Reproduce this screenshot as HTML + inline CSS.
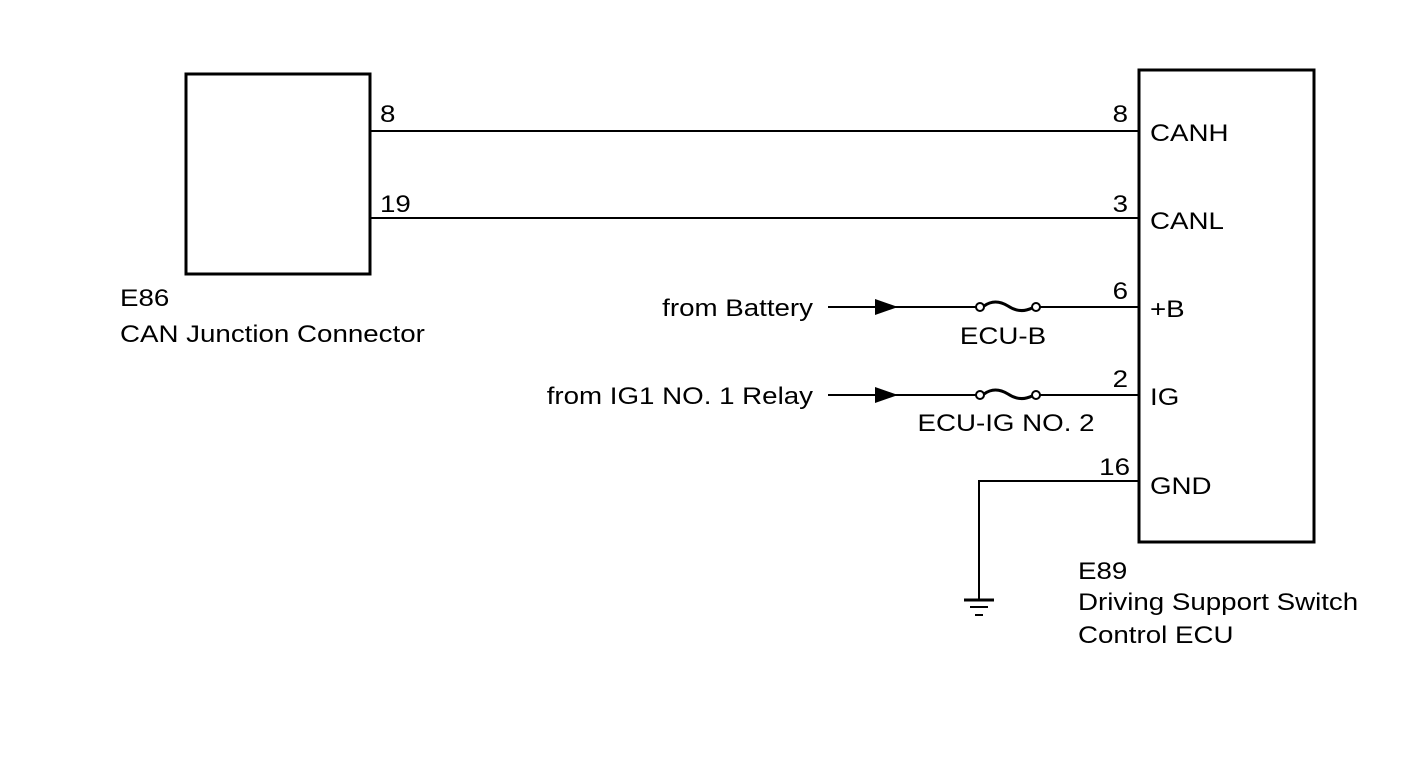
<!DOCTYPE html>
<html><head><style>body{margin:0;background:#fff}</style></head><body>
<svg width="1421" height="756" xmlns="http://www.w3.org/2000/svg" font-family="Liberation Sans, Arial, sans-serif" font-size="24" fill="#000">
<rect x="186" y="74" width="184" height="200" fill="none" stroke="#000" stroke-width="3"/>
<rect x="1139" y="70" width="175" height="472" fill="none" stroke="#000" stroke-width="3"/>
<g stroke="#000" stroke-width="2" fill="none">
<line x1="370" y1="131" x2="1139" y2="131"/>
<line x1="370" y1="218" x2="1139" y2="218"/>
<line x1="828" y1="307" x2="976" y2="307"/>
<line x1="1040" y1="307" x2="1139" y2="307"/>
<line x1="828" y1="395" x2="976" y2="395"/>
<line x1="1040" y1="395" x2="1139" y2="395"/>
<circle cx="980" cy="307" r="4"/><circle cx="1036" cy="307" r="4"/>
<circle cx="980" cy="395" r="4"/><circle cx="1036" cy="395" r="4"/>
<path d="M984 306 Q995 298 1008 306 Q1020 314 1032 308" stroke-width="3"/>
<path d="M984 394 Q995 386 1008 394 Q1020 402 1032 396" stroke-width="3"/>
<polyline points="1139,481 979,481 979,600"/>
<line x1="964" y1="600" x2="994" y2="600" stroke-width="3"/>
<line x1="970" y1="607" x2="988" y2="607"/>
<line x1="975" y1="615" x2="983" y2="615"/>
</g>
<polygon points="875,299 875,315 898,307"/>
<polygon points="875,387 875,403 898,395"/>
<g transform="translate(380,122) scale(1.155,1)"><text>8</text></g>
<g transform="translate(380,212) scale(1.155,1)"><text>19</text></g>
<g transform="translate(1128,122) scale(1.155,1)"><text text-anchor="end">8</text></g>
<g transform="translate(1128,212) scale(1.155,1)"><text text-anchor="end">3</text></g>
<g transform="translate(1128,299) scale(1.155,1)"><text text-anchor="end">6</text></g>
<g transform="translate(1128,387) scale(1.155,1)"><text text-anchor="end">2</text></g>
<g transform="translate(1130,475) scale(1.155,1)"><text text-anchor="end">16</text></g>
<g transform="translate(1150,141) scale(1.155,1)"><text>CANH</text></g>
<g transform="translate(1150,229) scale(1.155,1)"><text>CANL</text></g>
<g transform="translate(1150,317) scale(1.155,1)"><text>+B</text></g>
<g transform="translate(1150,405) scale(1.155,1)"><text>IG</text></g>
<g transform="translate(1150,494) scale(1.155,1)"><text>GND</text></g>
<g transform="translate(813,316) scale(1.155,1)"><text text-anchor="end">from Battery</text></g>
<g transform="translate(813,404) scale(1.155,1)"><text text-anchor="end">from IG1 NO. 1 Relay</text></g>
<g transform="translate(1003,344) scale(1.155,1)"><text text-anchor="middle">ECU-B</text></g>
<g transform="translate(1006,431) scale(1.155,1)"><text text-anchor="middle">ECU-IG NO. 2</text></g>
<g transform="translate(120,306) scale(1.155,1)"><text>E86</text></g>
<g transform="translate(120,342) scale(1.155,1)"><text>CAN Junction Connector</text></g>
<g transform="translate(1078,579) scale(1.155,1)"><text>E89</text></g>
<g transform="translate(1078,610) scale(1.155,1)"><text>Driving Support Switch</text></g>
<g transform="translate(1078,643) scale(1.155,1)"><text>Control ECU</text></g>
</svg>
</body></html>
